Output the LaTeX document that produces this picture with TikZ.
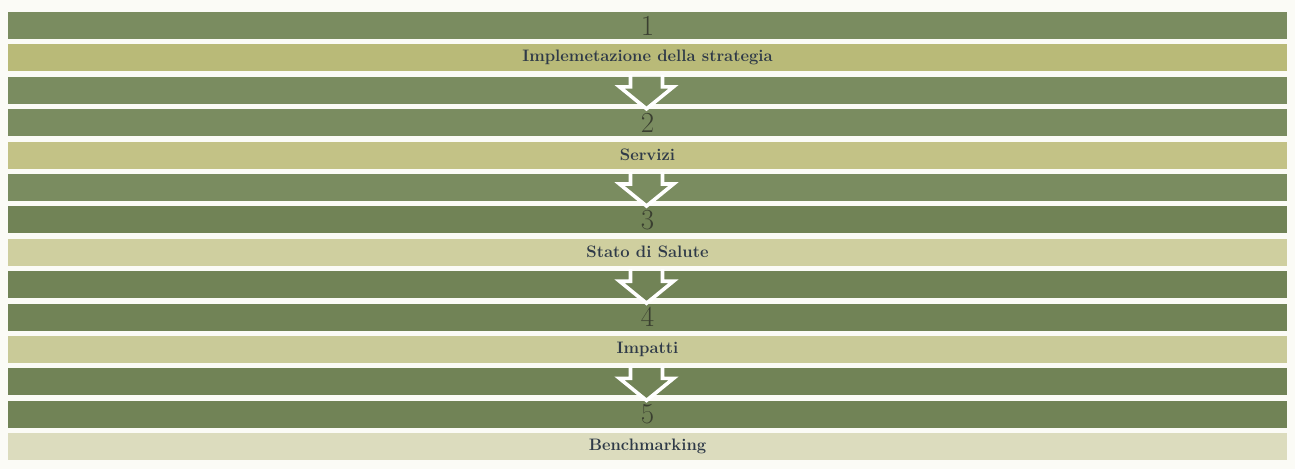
\documentclass[tikz,border=0pt]{standalone}
\usetikzlibrary{calc}
\definecolor{bandA}{HTML}{7A8C60}
\definecolor{bandB}{HTML}{718356}
\definecolor{labA}{HTML}{B9BA78}
\definecolor{labB}{HTML}{C3C286}
\definecolor{labC}{HTML}{CFCF9F}
\definecolor{labD}{HTML}{C9CA98}
\definecolor{labE}{HTML}{DCDCBE}
\definecolor{numtext}{HTML}{3A3F30}
\definecolor{labtext}{HTML}{2F3A48}
\definecolor{bgcol}{HTML}{FBFBF6}
\begin{document}
\begin{tikzpicture}[x=1pt,y=-1pt]
\tikzset{
  band/.style={minimum width=1279pt, minimum height=27pt, inner sep=0pt, outer sep=0pt, anchor=north west},
  numband/.style={band, fill=#1, text=numtext, font=\fontsize{29}{29}\selectfont},
  labband/.style={band, fill=#1, text=labtext, font=\fontsize{16.6}{17}\selectfont\bfseries},
  arrband/.style={band, fill=#1},
  hollowarrow/.style={draw=white, line width=3.6pt, line join=miter}
}
\useasboundingbox[fill=bgcol] (0,0) rectangle (1295,469);
% step 1
\node[numband=bandA] (n1) at (8,12.0) {1};
\node[labband=labA] (l1) at (8,44.4) {Implemetazione della strategia};
\node[arrband=bandA] (a1) at (8,76.8) {};
% step 2
\node[numband=bandA] (n2) at (8,109.2) {2};
\node[labband=labB] (l2) at (8,141.6) {Servizi};
\node[arrband=bandA] (a2) at (8,174.0) {};
% step 3
\node[numband=bandB] (n3) at (8,206.4) {3};
\node[labband=labC] (l3) at (8,238.8) {Stato di Salute};
\node[arrband=bandB] (a3) at (8,271.2) {};
% step 4
\node[numband=bandB] (n4) at (8,303.6) {4};
\node[labband=labD] (l4) at (8,336.0) {Impatti};
\node[arrband=bandB] (a4) at (8,368.4) {};
% step 5
\node[numband=bandB] (n5) at (8,400.8) {5};
\node[labband=labE] (l5) at (8,433.2) {Benchmarking};
% hollow arrows
\foreach \a/\c in {a1/bandA,a2/bandA,a3/bandB,a4/bandB}{
  \coordinate (t) at ($(\a.north)+(-1,0)$);
  \fill[\c] ($(t)+(-16,0)$) -- ($(t)+(-16,10)$) -- ($(t)+(-27,10)$) -- ($(t)+(0,32)$)
     -- ($(t)+(27,10)$) -- ($(t)+(16,10)$) -- ($(t)+(16,0)$) -- cycle;
  \draw[hollowarrow] ($(t)+(-16,-2)$) -- ($(t)+(-16,10)$) -- ($(t)+(-27,10)$) -- ($(t)+(0,32)$)
     -- ($(t)+(27,10)$) -- ($(t)+(16,10)$) -- ($(t)+(16,-2)$);
}
\end{tikzpicture}
\end{document}
